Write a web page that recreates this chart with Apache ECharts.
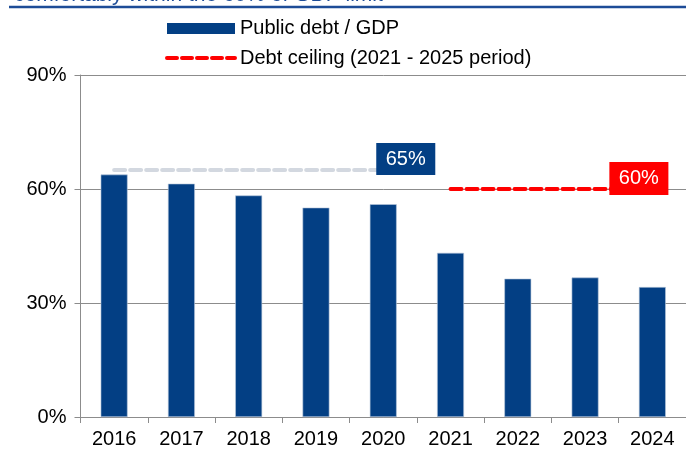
<!DOCTYPE html>
<html>
<head>
<meta charset="utf-8">
<script src="https://cdn.jsdelivr.net/npm/echarts@6/dist/echarts.min.js"></script>
<style>
html,body{margin:0;padding:0;background:#fff;}
#chart{width:686px;height:451px;}
</style>
</head>
<body>
<div id="chart"></div>
<script>
var categories = ['2016','2017','2018','2019','2020','2021','2022','2023','2024'];
var debtToGdp = [63.8, 61.4, 58.3, 55.1, 56.0, 43.2, 36.4, 36.7, 34.2];
var oldLimit = [65, 65, 65, 65, 65, null, null, null, null];
var debtCeiling = [null, null, null, null, null, 60, 60, 60, 60];
var yTicks = [0, 30, 60, 90];
var titleText = 'comfortably within the 60% of GDP limit';

var navy = '#033F84';
var FONT = 'Liberation Sans, Arial, sans-serif';

var chart = echarts.init(document.getElementById('chart'), null, {renderer:'canvas'});
chart.setOption({
  animation: false,
  backgroundColor: '#fff',
  textStyle: {fontFamily: FONT},
  title: {
    text: titleText,
    left: 9, top: -20,
    textStyle: {fontFamily: FONT, fontSize: 21, fontWeight: 'normal', color: '#1D4C97'}
  },
  graphic: [{
    type: 'line', shape: {x1: 9, y1: 7, x2: 686, y2: 7},
    style: {stroke: '#1D4C97', lineWidth: 2.5}
  }],
  legend: {
    orient: 'vertical',
    left: 160, top: 13.5,
    itemGap: 9.5,
    itemWidth: 68, itemHeight: 11,
    itemTextGap: 7,
    data: [
      {name: 'Public debt / GDP', icon: 'rect', itemStyle: {borderWidth: 0, color: navy}},
      {name: 'Debt ceiling (2021 - 2025 period)', itemStyle: {opacity: 0},
       lineStyle: {color: '#FF0000', width: 4, type: [10, 5], cap: 'round'}}
    ],
    textStyle: {fontFamily: FONT, fontSize: 20, color: '#000'}
  },
  grid: {left: 80.5, right: 0, top: 75, bottom: 34, containLabel: false},
  xAxis: {
    type: 'category',
    data: categories,
    boundaryGap: true,
    axisLine: {show: true, lineStyle: {color: '#8c8c8c', width: 1}},
    axisTick: {show: true, length: 6, lineStyle: {color: '#8c8c8c'}},
    axisLabel: {fontFamily: FONT, fontSize: 20, color: '#000', margin: 12}
  },
  yAxis: {
    type: 'value',
    min: yTicks[0], max: yTicks[yTicks.length - 1], interval: yTicks[1] - yTicks[0],
    axisLine: {show: true, lineStyle: {color: '#8c8c8c', width: 1}},
    axisTick: {show: true, length: 6, lineStyle: {color: '#8c8c8c'}},
    splitLine: {show: true, lineStyle: {color: '#8c8c8c', width: 1}},
    axisLabel: {fontFamily: FONT, fontSize: 20, color: '#000', margin: 14, formatter: '{value}%'}
  },
  series: [
    {
      name: 'Public debt / GDP',
      type: 'bar',
      data: debtToGdp,
      barWidth: '40%',
      itemStyle: {color: navy, borderColor: '#b9c7dc', borderWidth: 0.6},
      z: 2
    },
    {
      name: 'Old limit',
      type: 'line',
      data: oldLimit,
      symbol: 'none',
      lineStyle: {color: '#D3D8E0', width: 4, type: [11, 5], cap: 'round'},
      endLabel: {
        show: true, formatter: '65%', distance: 0, offset: [-7, -11],
        color: '#fff', fontFamily: FONT, fontSize: 20,
        backgroundColor: navy, padding: [6, 9.5, 6, 9.5]
      },
      z: 3
    },
    {
      name: 'Debt ceiling (2021 - 2025 period)',
      type: 'line',
      data: debtCeiling,
      symbol: 'none',
      itemStyle: {color: '#FF0000'},
      lineStyle: {color: '#FF0000', width: 4, type: [11, 5], cap: 'round'},
      endLabel: {
        show: true, formatter: '60%', distance: 0, offset: [-43, -10.5],
        color: '#fff', fontFamily: FONT, fontSize: 20,
        backgroundColor: '#FF0000', padding: [6.5, 9.5, 6.5, 9.5]
      },
      z: 4
    }
  ]
});
</script>
</body>
</html>
